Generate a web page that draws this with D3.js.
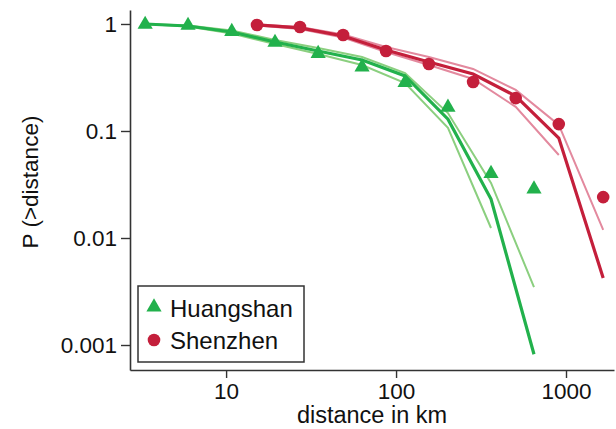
<!DOCTYPE html>
<html>
<head>
<meta charset="utf-8">
<script src="https://cdn.jsdelivr.net/npm/d3@7"></script>
<style>
  html, body { margin: 0; padding: 0; background: #fff; }
  svg { display: block; font-family: "Liberation Sans", Arial, Helvetica, sans-serif; }
</style>
</head>
<body>
<svg id="chart" width="616" height="429"></svg>
<script>
// Distance-decay (CCDF) of trips: observed points and model curves with bounds
const seriesNames = ["Huangshan", "Shenzhen"];

// Huangshan observed
const hsDist = [3.34, 5.97, 10.8, 19.4, 34.8, 63.1, 113, 202, 362, 648];
const hsObs  = [1.0, 0.979, 0.86, 0.68, 0.535, 0.40, 0.287, 0.168, 0.0405, 0.029];
// Huangshan model (central, upper, lower)
const hsModel = [1.0, 0.958, 0.842, 0.679, 0.559, 0.461, 0.327, 0.129, 0.0231, 0.00082];
const hsUpper = [1.0, 0.968, 0.87, 0.709, 0.597, 0.492, 0.348, 0.147, 0.0327, 0.00348];
const hsLower = [1.0, 0.948, 0.815, 0.65, 0.525, 0.414, 0.281, 0.107, 0.0124];

// Shenzhen observed
const szDist = [15.2, 27.2, 48.8, 87.3, 156, 284, 506, 907, 1655];
const szObs  = [0.979, 0.937, 0.79, 0.56, 0.423, 0.287, 0.203, 0.116, 0.0241];
// Shenzhen model (central, upper, lower)
const szModel = [0.979, 0.918, 0.772, 0.571, 0.441, 0.341, 0.212, 0.086, 0.00423];
const szUpper = [0.989, 0.937, 0.798, 0.61, 0.492, 0.38, 0.242, 0.114, 0.0119];
const szLower = [0.968, 0.898, 0.748, 0.548, 0.414, 0.306, 0.168, 0.0597];

const xTicks = [10, 100, 1000];
const yTicks = [1, 0.1, 0.01, 0.001];
const xDomain = [2.72, 1916];
const yDomain = [0.000584, 1.351];

const colors = {
  green: "#22b14c", greenLight: "#8bcf7f",
  red: "#c41f3b", redLight: "#e3899e",
  axis: "#333333"
};

const svg = d3.select("#chart");
const x = d3.scaleLog().domain(xDomain).range([130, 614]);
const y = d3.scaleLog().domain(yDomain).range([370, 10]);

// Axes
const xAxis = d3.axisBottom(x).tickValues(xTicks).tickFormat(d3.format("d"))
  .tickSizeInner(8).tickSizeOuter(0).tickPadding(5);
const yAxis = d3.axisLeft(y).tickValues(yTicks).tickFormat(d => String(d))
  .tickSizeInner(9).tickSizeOuter(0).tickPadding(4);

const gx = svg.append("g").attr("transform", "translate(0,370)").call(xAxis);
const gy = svg.append("g").attr("transform", "translate(130,0)").call(yAxis);
[gx, gy].forEach(g => {
  g.selectAll("path.domain").attr("stroke", colors.axis).attr("stroke-width", 1.6);
  g.selectAll(".tick line").attr("stroke", colors.axis).attr("stroke-width", 1.4);
  g.selectAll(".tick text").attr("fill", "#111").attr("font-size", 22.5)
    .attr("font-family", "'Liberation Sans', Arial, sans-serif");
});

svg.append("text").attr("x", 372).attr("y", 423).attr("text-anchor", "middle")
  .attr("font-size", 23.5).attr("fill", "#111").text("distance in km");
svg.append("text").attr("transform", "translate(38,182) rotate(-90)")
  .attr("text-anchor", "middle").attr("font-size", 22.5).attr("fill", "#111")
  .text("P (>distance)");

const line = d3.line().x(d => x(d[0])).y(d => y(d[1]));
const zip = (xs, ys) => ys.map((v, i) => [xs[i], v]);

function drawCurve(xs, ys, color, width) {
  svg.append("path").datum(zip(xs, ys)).attr("d", line)
    .attr("fill", "none").attr("stroke", color).attr("stroke-width", width)
    .attr("stroke-linejoin", "miter");
}

// bounds first, then central model curves
drawCurve(hsDist, hsUpper, colors.greenLight, 2);
drawCurve(hsDist, hsLower, colors.greenLight, 2);
drawCurve(szDist, szUpper, colors.redLight, 2);
drawCurve(szDist, szLower, colors.redLight, 2);
drawCurve(hsDist, hsModel, colors.green, 3.2);
drawCurve(szDist, szModel, colors.red, 3.2);

// observed markers
const tri = d3.symbol().type(d3.symbolTriangle).size(100);
svg.append("g").selectAll("path").data(zip(hsDist, hsObs)).join("path")
  .attr("d", tri)
  .attr("transform", d => `translate(${x(d[0])},${y(d[1]) + 0.5})`)
  .attr("fill", colors.green);
svg.append("g").selectAll("circle").data(zip(szDist, szObs)).join("circle")
  .attr("cx", d => x(d[0])).attr("cy", d => y(d[1])).attr("r", 6.3)
  .attr("fill", colors.red);

// legend
const lg = svg.append("g");
lg.append("rect").attr("x", 138).attr("y", 286).attr("width", 166).attr("height", 76)
  .attr("fill", "#fff").attr("stroke", colors.axis).attr("stroke-width", 1.5);
lg.append("path").attr("d", tri).attr("transform", "translate(154,307)").attr("fill", colors.green);
lg.append("circle").attr("cx", 154).attr("cy", 340).attr("r", 6.3).attr("fill", colors.red);
lg.append("text").attr("x", 170).attr("y", 317).attr("font-size", 24).attr("fill", "#111").text(seriesNames[0]);
lg.append("text").attr("x", 170).attr("y", 349).attr("font-size", 24).attr("fill", "#111").text(seriesNames[1]);
</script>
</body>
</html>
